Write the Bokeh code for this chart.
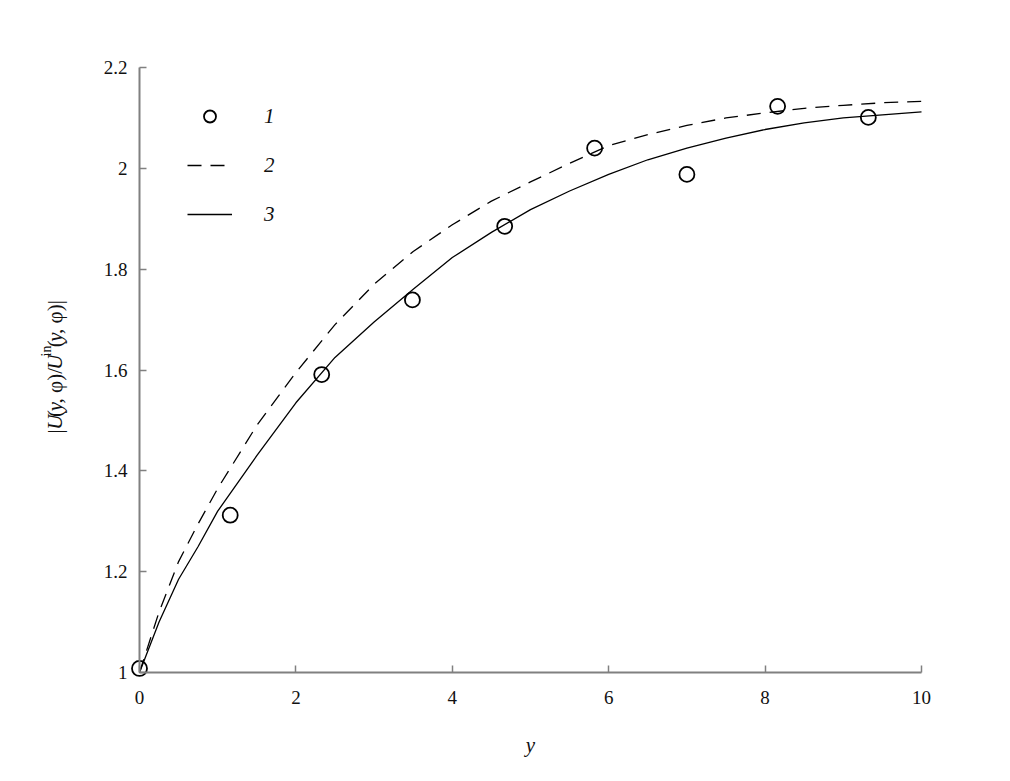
import math
from bokeh.plotting import figure
from bokeh.layouts import row
from bokeh.models import (Range1d, FixedTicker, Legend, LegendItem, LinearAxis,
                          CustomJSTickFormatter)
from bokeh.core.properties import value
from bokeh.embed import file_html
from bokeh.resources import INLINE

# ---------------- data ----------------
x_obs = [0.0, 1.16, 2.33, 3.49, 4.67, 5.82, 7.0, 8.16, 9.32]
y_obs = [1.008, 1.312, 1.591, 1.739, 1.885, 2.040, 1.988, 2.123, 2.101]

x_curve = [0, 0.25, 0.5, 0.75, 1, 1.5, 2, 2.5, 3, 3.5, 4, 4.5, 5, 5.5, 6,
           6.5, 7, 7.5, 8, 8.5, 9, 9.5, 10]
y_dashed = [1.0, 1.12, 1.22, 1.295, 1.365, 1.49, 1.595, 1.69, 1.77, 1.835,
            1.888, 1.935, 1.973, 2.01, 2.045, 2.067, 2.085, 2.10, 2.11,
            2.119, 2.125, 2.13, 2.133]
y_solid = [1.0, 1.10, 1.185, 1.25, 1.32, 1.43, 1.535, 1.625, 1.695, 1.76,
           1.823, 1.873, 1.918, 1.955, 1.988, 2.017, 2.04, 2.06, 2.077,
           2.09, 2.10, 2.106, 2.112]

x_ticks = [0, 2, 4, 6, 8, 10]
y_ticks = [1, 1.2, 1.4, 1.6, 1.8, 2, 2.2]
y_tick_labels = ["1", "1.2", "1.4", "1.6", "1.8", "2", "2.2"]
legend_labels = ["1", "2", "3"]
x_label = "y"

# ---------------- layout ----------------
TOTAL_W, H = 1010, 781
LAB_W = 80                      # narrow figure that holds the rotated y label
W = TOTAL_W - LAB_W
FRAME_L, FRAME_R, FRAME_T, FRAME_B = 129, 931, 57, 682   # page px
BL, BR, BT, BB = FRAME_L - LAB_W, TOTAL_W - FRAME_R, FRAME_T, H - FRAME_B
FW, FH = W - BL - BR, H - BT - BB
PAD = 10
XMIN, XMAX = 0.0, 10.0
YMIN, YMAX = 1.0, 2.2
dx = (XMAX - XMIN) / (FW - 2 * PAD) * PAD
dy = (YMAX - YMIN) / (FH - 2 * PAD) * PAD

FONT = "Liberation Serif"
AXIS_COLOR = "#808080"
TEXT_COLOR = "#111111"

p = figure(width=W, height=H,
           x_range=Range1d(XMIN - dx, XMAX + dx),
           y_range=Range1d(YMIN - dy, YMAX + dy),
           output_backend="svg", toolbar_location=None,
           min_border_left=BL, min_border_right=BR, min_border_top=BT,
           min_border_bottom=BB)
p.outline_line_color = None
p.grid.visible = False

# label-only axes in the side panels
for ax in (p.xaxis[0], p.yaxis[0]):
    ax.axis_line_color = None
    ax.major_tick_line_color = None
    ax.minor_tick_line_color = None
    ax.major_tick_in = 0
    ax.major_tick_out = 0
    ax.major_label_text_font = FONT
    ax.major_label_text_font_size = "19px"
    ax.major_label_text_color = TEXT_COLOR
p.xaxis.ticker = FixedTicker(ticks=x_ticks)
p.yaxis.ticker = FixedTicker(ticks=y_ticks)
p.yaxis.major_label_overrides = {t: l for t, l in zip(y_ticks, y_tick_labels)}
p.xaxis.major_label_standoff = 8
p.yaxis.major_label_standoff = 2
p.xaxis.axis_label = x_label
p.xaxis.axis_label_text_font = FONT
p.xaxis.axis_label_text_font_style = "italic"
p.xaxis.axis_label_text_font_size = "21px"
p.xaxis.axis_label_text_color = TEXT_COLOR
p.xaxis.axis_label_standoff = 26

# line + tick axes drawn at x=0 / y=1, ticks pointing into the plot
blank = CustomJSTickFormatter(code="return ''")
xline = LinearAxis(fixed_location=YMIN, bounds=(XMIN, XMAX),
                   ticker=FixedTicker(ticks=x_ticks), formatter=blank)
yline = LinearAxis(fixed_location=XMIN, bounds=(YMIN, YMAX),
                   ticker=FixedTicker(ticks=y_ticks), formatter=blank)
for ax in (xline, yline):
    ax.axis_line_color = AXIS_COLOR
    ax.axis_line_width = 2
    ax.major_tick_line_color = AXIS_COLOR
    ax.major_tick_line_width = 1.5
    ax.major_tick_in = 0
    ax.major_tick_out = 7
    ax.minor_tick_line_color = None
    ax.major_label_text_font_size = "1px"
    ax.major_label_standoff = 0
p.add_layout(xline, "above")
p.add_layout(yline, "right")

# ---------------- curves / points ----------------
r_dash = p.line(x_curve, y_dashed, line_color="black", line_width=1.3,
                line_dash="14 9")
r_solid = p.line(x_curve, y_solid, line_color="black", line_width=1.3)
r_pts = p.scatter(x_obs, y_obs, marker="circle", size=15, fill_color=None,
                  line_color="black", line_width=1.8)

legend = Legend(items=[LegendItem(label=legend_labels[0], renderers=[r_pts]),
                       LegendItem(label=legend_labels[1], renderers=[r_dash]),
                       LegendItem(label=legend_labels[2], renderers=[r_solid])],
                location=(58, 453))
legend.border_line_color = None
legend.background_fill_alpha = 0
legend.margin = 0
legend.padding = 0
legend.glyph_width = 45
legend.glyph_height = 30
legend.label_height = 20
legend.spacing = 19
legend.label_standoff = 32
legend.label_text_font = FONT
legend.label_text_font_style = "italic"
legend.label_text_font_size = "21px"
legend.label_text_color = TEXT_COLOR
legend.label_text_baseline = "middle"
p.add_layout(legend, "center")

# ---------------- rotated y-axis label (separate narrow figure) ----------------
lab = figure(width=LAB_W, height=H, x_range=Range1d(0, LAB_W),
             y_range=Range1d(0, H), x_axis_type=None, y_axis_type=None,
             output_backend="svg", toolbar_location=None,
             min_border=0, min_border_left=0, min_border_right=0,
             min_border_top=0, min_border_bottom=0)
lab.outline_line_color = None
lab.grid.visible = False

# (text, style, size_px, raise_px, extra_gap_px)
S = 21
pieces = [("|", "normal", S, 0, 0.5), ("U", "italic", S, 0, 1),
          ("(", "normal", S, 0, 0), ("y", "italic", S, 0, 0.5),
          (", \u03c6)/", "normal", S, 0, 1.5), ("U", "italic", S, 0, 1.5),
          ("in", "normal", 14, 8, 0.5), ("(", "normal", S, 0, 0),
          ("y", "italic", S, 0, 0.5), (", \u03c6)|", "normal", S, 0, 0)]
em = {"|": 0.2, "U": 0.722, "(": 0.333, ")": 0.333, "y": 0.444, ",": 0.25,
      " ": 0.25, "\u03c6": 0.82, "/": 0.278, "i": 0.278, "n": 0.5}
base_x = 54
cur_y = 470
for txt, style, size, rise, gap in pieces:
    lab.text(x=[base_x - rise], y=[H - cur_y], text=[txt], angle=math.pi / 2,
             text_align="left", text_baseline="alphabetic",
             text_font=value(FONT), text_font_style=style,
             text_font_size=f"{size}px", text_color=TEXT_COLOR)
    cur_y -= sum(em.get(c, 0.5) for c in txt) * size + gap

layout = row(lab, p, spacing=0)
open("out.html", "w").write(file_html(layout, INLINE))
